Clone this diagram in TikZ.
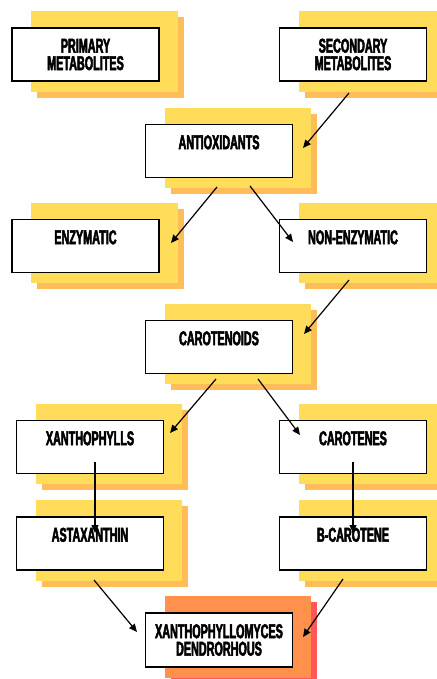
\documentclass[tikz,border=0pt]{standalone}
\usepackage{fontspec}
\newfontfamily\boxfont{Liberation Sans Bold}[FakeStretch=0.54, FakeBold=2.5]
\usepackage{tikz}
\usetikzlibrary{arrows.meta,backgrounds}
\usepackage{xcolor}
\definecolor{yel}{HTML}{FFDC5A}
\definecolor{org}{HTML}{FFBD59}
\definecolor{deeporg}{HTML}{FF914D}
\definecolor{redsh}{HTML}{FF5757}

\begin{document}
\begin{tikzpicture}[
    x=1pt, y=-1pt,
    box/.style={draw, line width=1.4pt, fill=white, minimum width=147pt, minimum height=53pt, inner sep=0pt, align=center, font=\boxfont\fontsize{20}{17.5}\selectfont},
    arrow/.style={-{Triangle[length=8pt,width=7pt]}, line width=1.2pt}
]
\useasboundingbox (0,0) rectangle (436,679);

% Boxes
\node[box] (prim) at (85.5,54.5) {PRIMARY\\METABOLITES};
\node[box] (sec) at (353,54.5) {SECONDARY\\METABOLITES};
\node[box] (anti) at (219,151) {ANTIOXIDANTS\\\mbox{}};
\node[box] (enz) at (85.5,246) {ENZYMATIC\\\mbox{}};
\node[box] (nonenz) at (353,246) {NON-ENZYMATIC\\\mbox{}};
\node[box] (caro) at (219,347) {CAROTENOIDS\\\mbox{}};
\node[box] (xan) at (90,447) {XANTHOPHYLLS\\\mbox{}};
\node[box] (cart) at (353,447) {CAROTENES\\\mbox{}};
\node[box] (asta) at (90,543.5) {ASTAXANTHIN\\\mbox{}};
\node[box] (bcar) at (353,543.5) {B-CAROTENE\\\mbox{}};
\node[box, minimum height=54pt] (xdend) at (219,640) {XANTHOPHYLLOMYCES\\DENDRORHOUS};

% Coloured layers behind the boxes
\begin{scope}[on background layer]
\foreach \n/\front/\rear in {prim/yel/org, sec/yel/org, anti/yel/org, enz/yel/org, nonenz/yel/org, caro/yel/org, xan/yel/org, cart/yel/org, asta/yel/org, bcar/yel/org, xdend/deeporg/redsh} {
    \fill[\rear] ([shift={(26,-10)}]\n.north west) rectangle ([shift={(24,16)}]\n.south east);
    \fill[\front] ([shift={(20,-16)}]\n.north west) rectangle ([shift={(18,10)}]\n.south east);
}
\end{scope}

% Arrows
\draw[arrow] ([shift={(-4,38.5)}]sec.center) -- ([shift={(84,-3)}]anti.center);
\draw[arrow] ([shift={(-2,36)}]anti.center) -- ([shift={(85.5,-3)}]enz.center);
\draw[arrow] ([shift={(31,35)}]anti.center) -- ([shift={(-60,-4)}]nonenz.center);
\draw[arrow] ([shift={(-4,34)}]nonenz.center) -- ([shift={(85,-13)}]caro.center);
\draw[arrow] ([shift={(-3,32)}]caro.center) -- ([shift={(80,-14)}]xan.center);
\draw[arrow] ([shift={(39,32)}]caro.center) -- ([shift={(-53,-12)}]cart.center);
\draw[arrow] ([shift={(5,15)}]xan.center) -- ([shift={(5,-10.5)}]asta.center);
\draw[arrow] ([shift={(0,15)}]cart.center) -- ([shift={(0,-10.5)}]bcar.center);
\draw[arrow] ([shift={(4,36.5)}]asta.center) -- ([shift={(-82,-8)}]xdend.center);
\draw[arrow] ([shift={(-10,35.5)}]bcar.center) -- ([shift={(84,-3)}]xdend.center);

\end{tikzpicture}
\end{document}
